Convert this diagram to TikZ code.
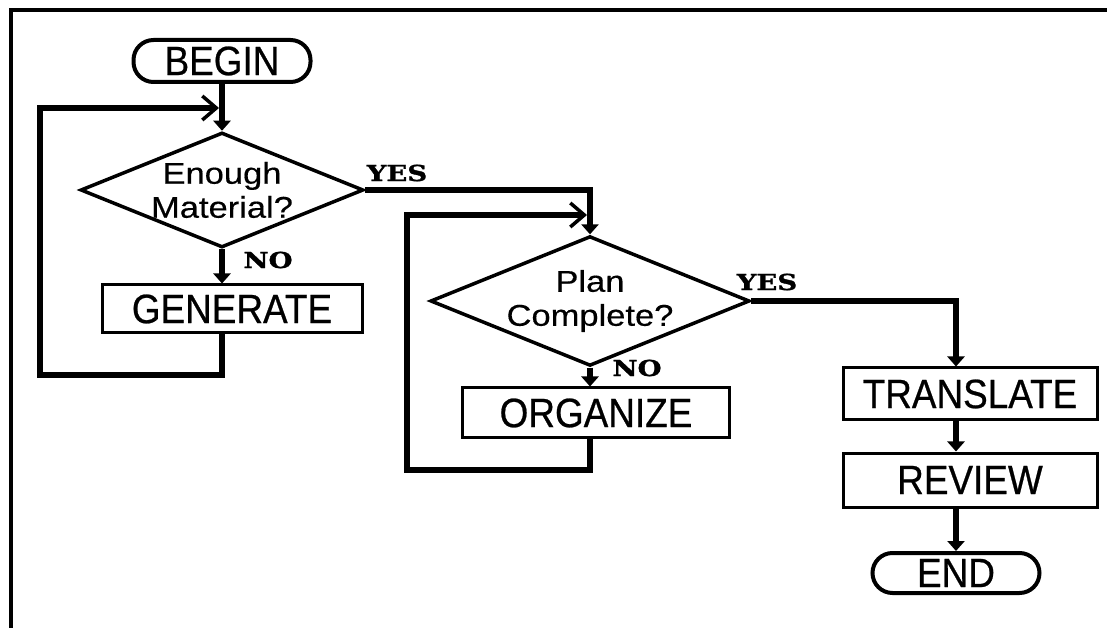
\documentclass[tikz,border=0pt]{standalone}
\usepackage{fontspec}
\setmainfont{Liberation Sans}
\newfontfamily\boxfont[FakeStretch=0.9,FakeBold=0.6]{Liberation Sans}
\newfontfamily\askfont[FakeStretch=1.15,FakeBold=0.4]{Liberation Sans}
\newfontfamily\ynfont[FakeStretch=1.25,FakeBold=1.5]{DejaVu Serif}
\usetikzlibrary{shapes.geometric,arrows.meta}
\begin{document}
\begin{tikzpicture}[x=1pt,y=-1pt,
  stepbox/.style={draw,line width=3pt,inner sep=0pt,
    font=\boxfont\fontsize{41}{41}\selectfont},
  terminal/.style={draw,line width=4pt,rounded corners=20pt,inner sep=0pt,
    font=\boxfont\fontsize{41}{41}\selectfont},
  decision/.style={draw,diamond,line width=3.5pt,inner sep=0pt,aspect=2.46,
    align=center,font=\askfont\fontsize{30}{34}\selectfont},
  answer/.style={inner sep=0pt,font=\ynfont\bfseries\fontsize{22}{22}\selectfont},
  flow/.style={line width=6pt,-{Triangle[length=10pt,width=17pt]}},
  loopback/.style={line width=6pt,
    -{Straight Barb[length=14pt,width=24pt,line width=3.5pt]}},
  frame/.style={line width=4pt}]
\useasboundingbox (0,0) rectangle (1120,628);

% outer frame (top and left edges)
\coordinate (fbl) at (11,628);
\coordinate (ftl) at (11,10);
\coordinate (ftr) at (1107,10);
\draw[frame] (fbl) -- (ftl) -- (ftr);

% steps
\node[terminal,minimum width=177pt,minimum height=42pt] (begin) at (222,61) {BEGIN};
\node[decision,minimum width=283pt,minimum height=115pt] (ask1) at (222,190) {Enough\\Material?};
\node[stepbox,minimum width=260pt,minimum height=48pt] (gen) at (232,309) {GENERATE};
\node[decision,minimum width=291pt,minimum height=118pt] (ask2) at (590,301) {Plan\\Complete?};
\node[stepbox,minimum width=267pt,minimum height=50pt] (org) at (596,413) {ORGANIZE};
\node[stepbox,minimum width=254pt,minimum height=52pt] (trans) at (970,394) {TRANSLATE};
\node[stepbox,minimum width=254pt,minimum height=54pt] (rev) at (970,480) {REVIEW};
\node[terminal,minimum width=167pt,minimum height=40pt] (end) at (956,573) {END};

% branch labels
\node[answer] (yes1) at (397,173) {YES};
\node[answer] (no1) at (268,260) {NO};
\node[answer] (yes2) at (767,282) {YES};
\node[answer] (no2) at (637,368) {NO};

% loop corners
\coordinate (back1a) at (40,375);
\coordinate (back1b) at (40,108);
\coordinate (join1) at (219,108);
\coordinate (back2a) at (407,470);
\coordinate (back2b) at (407,215);
\coordinate (join2) at (587,215);

% connectors
\draw[flow] (begin.south) -- (ask1.north);
\draw[flow] (ask1.south) -- (ask1.south |- gen.north);
\draw[loopback] (ask1.south |- gen.south) |- (back1a) -- (back1b) -- (join1);
\draw[flow] (ask1.east) -| (ask2.north);
\draw[flow] (ask2.south) -- (ask2.south |- org.north);
\draw[loopback] (ask2.south |- org.south) |- (back2a) -- (back2b) -- (join2);
\draw[flow] (ask2.east) -| (end.north |- trans.north);
\draw[flow] (end.north |- trans.south) -- (end.north |- rev.north);
\draw[flow] (end.north |- rev.south) -- (end.north);
\end{tikzpicture}
\end{document}
